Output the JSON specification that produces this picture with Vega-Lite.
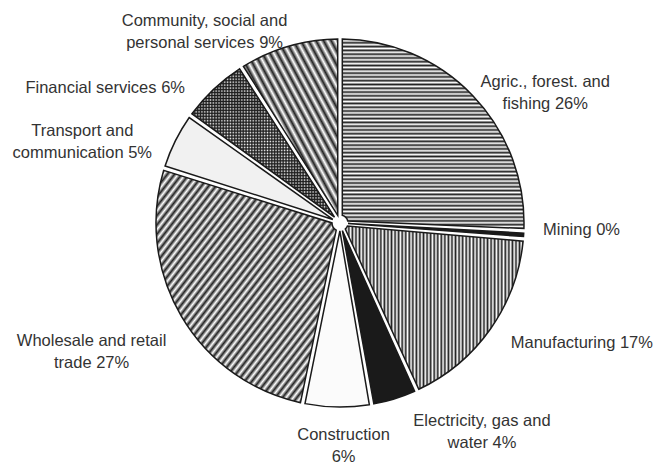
{
  "$schema": "https://vega.github.io/schema/vega-lite/v6.json",
  "width": 632,
  "height": 446,
  "autosize": {"type": "none"},
  "padding": {"left": 24, "top": 0, "right": 1, "bottom": 21},
  "background": "#ffffff",
  "config": {"view": {"stroke": null}},
  "data": {
    "values": [
      {"order": 1, "sector": "Agriculture", "value": 25.7, "label": "Agric., forest. and\nfishing 26%"},
      {"order": 2, "sector": "Mining", "value": 0.7, "label": "Mining 0%"},
      {"order": 3, "sector": "Manufacturing", "value": 16.8, "label": "Manufacturing 17%"},
      {"order": 4, "sector": "Electricity", "value": 4.1, "label": "Electricity, gas and\nwater 4%"},
      {"order": 5, "sector": "Construction", "value": 6.0, "label": "Construction\n6%"},
      {"order": 6, "sector": "Trade", "value": 26.6, "label": "Wholesale and retail\ntrade 27%"},
      {"order": 7, "sector": "Transport", "value": 5.1, "label": "Transport and\ncommunication 5%"},
      {"order": 8, "sector": "Finance", "value": 6.1, "label": "Financial services 6%"},
      {"order": 9, "sector": "Community", "value": 9.0, "label": "Community, social and\npersonal services 9%"}
    ]
  },
  "encoding": {
    "theta": {"field": "value", "type": "quantitative", "stack": true},
    "order": {"field": "order", "type": "quantitative"},
    "detail": {"field": "sector", "type": "nominal"}
  },
  "layer": [
    {
      "mark": {"type": "arc", "outerRadius": 184, "innerRadius": 8, "padAngle": 0.025, "stroke": "#1a1a1a", "strokeWidth": 1.5},
      "encoding": {
        "fill": {
          "condition": [
            {"test": "datum.sector === 'Agriculture'", "value": {"gradient": "linear", "x1": 0, "y1": 0, "x2": 0, "y2": 1, "stops": [{"offset":0,"color":"#222"},{"offset":0.01,"color":"#fff"},{"offset":0.02,"color":"#222"},{"offset":0.03,"color":"#fff"},{"offset":0.04,"color":"#222"},{"offset":0.05,"color":"#fff"},{"offset":0.06,"color":"#222"},{"offset":0.07,"color":"#fff"},{"offset":0.08,"color":"#222"},{"offset":0.09,"color":"#fff"},{"offset":0.1,"color":"#222"},{"offset":0.11,"color":"#fff"},{"offset":0.12,"color":"#222"},{"offset":0.13,"color":"#fff"},{"offset":0.14,"color":"#222"},{"offset":0.15,"color":"#fff"},{"offset":0.16,"color":"#222"},{"offset":0.17,"color":"#fff"},{"offset":0.18,"color":"#222"},{"offset":0.19,"color":"#fff"},{"offset":0.2,"color":"#222"},{"offset":0.21,"color":"#fff"},{"offset":0.22,"color":"#222"},{"offset":0.23,"color":"#fff"},{"offset":0.24,"color":"#222"},{"offset":0.25,"color":"#fff"},{"offset":0.26,"color":"#222"},{"offset":0.27,"color":"#fff"},{"offset":0.28,"color":"#222"},{"offset":0.29,"color":"#fff"},{"offset":0.3,"color":"#222"},{"offset":0.31,"color":"#fff"},{"offset":0.32,"color":"#222"},{"offset":0.33,"color":"#fff"},{"offset":0.34,"color":"#222"},{"offset":0.35,"color":"#fff"},{"offset":0.36,"color":"#222"},{"offset":0.37,"color":"#fff"},{"offset":0.38,"color":"#222"},{"offset":0.39,"color":"#fff"},{"offset":0.4,"color":"#222"},{"offset":0.41,"color":"#fff"},{"offset":0.42,"color":"#222"},{"offset":0.43,"color":"#fff"},{"offset":0.44,"color":"#222"},{"offset":0.45,"color":"#fff"},{"offset":0.46,"color":"#222"},{"offset":0.47,"color":"#fff"},{"offset":0.48,"color":"#222"},{"offset":0.49,"color":"#fff"},{"offset":0.5,"color":"#222"},{"offset":0.51,"color":"#fff"},{"offset":0.52,"color":"#222"},{"offset":0.53,"color":"#fff"},{"offset":0.54,"color":"#222"},{"offset":0.55,"color":"#fff"},{"offset":0.56,"color":"#222"},{"offset":0.57,"color":"#fff"},{"offset":0.58,"color":"#222"},{"offset":0.59,"color":"#fff"},{"offset":0.6,"color":"#222"},{"offset":0.61,"color":"#fff"},{"offset":0.62,"color":"#222"},{"offset":0.63,"color":"#fff"},{"offset":0.64,"color":"#222"},{"offset":0.65,"color":"#fff"},{"offset":0.66,"color":"#222"},{"offset":0.67,"color":"#fff"},{"offset":0.68,"color":"#222"},{"offset":0.69,"color":"#fff"},{"offset":0.7,"color":"#222"},{"offset":0.71,"color":"#fff"},{"offset":0.72,"color":"#222"},{"offset":0.73,"color":"#fff"},{"offset":0.74,"color":"#222"},{"offset":0.75,"color":"#fff"},{"offset":0.76,"color":"#222"},{"offset":0.77,"color":"#fff"},{"offset":0.78,"color":"#222"},{"offset":0.79,"color":"#fff"},{"offset":0.8,"color":"#222"},{"offset":0.81,"color":"#fff"},{"offset":0.82,"color":"#222"},{"offset":0.83,"color":"#fff"},{"offset":0.84,"color":"#222"},{"offset":0.85,"color":"#fff"},{"offset":0.86,"color":"#222"},{"offset":0.87,"color":"#fff"},{"offset":0.88,"color":"#222"},{"offset":0.89,"color":"#fff"},{"offset":0.9,"color":"#222"},{"offset":0.91,"color":"#fff"},{"offset":0.92,"color":"#222"},{"offset":0.93,"color":"#fff"},{"offset":0.94,"color":"#222"},{"offset":0.95,"color":"#fff"},{"offset":0.96,"color":"#222"},{"offset":0.97,"color":"#fff"},{"offset":0.98,"color":"#222"},{"offset":0.99,"color":"#fff"},{"offset":1,"color":"#222"}]}},
            {"test": "datum.sector === 'Manufacturing'", "value": {"gradient": "linear", "x1": 0, "y1": 0, "x2": 1, "y2": 0, "stops": [{"offset":0,"color":"#222"},{"offset":0.01,"color":"#fff"},{"offset":0.02,"color":"#222"},{"offset":0.03,"color":"#fff"},{"offset":0.04,"color":"#222"},{"offset":0.05,"color":"#fff"},{"offset":0.06,"color":"#222"},{"offset":0.07,"color":"#fff"},{"offset":0.08,"color":"#222"},{"offset":0.09,"color":"#fff"},{"offset":0.1,"color":"#222"},{"offset":0.11,"color":"#fff"},{"offset":0.12,"color":"#222"},{"offset":0.13,"color":"#fff"},{"offset":0.14,"color":"#222"},{"offset":0.15,"color":"#fff"},{"offset":0.16,"color":"#222"},{"offset":0.17,"color":"#fff"},{"offset":0.18,"color":"#222"},{"offset":0.19,"color":"#fff"},{"offset":0.2,"color":"#222"},{"offset":0.21,"color":"#fff"},{"offset":0.22,"color":"#222"},{"offset":0.23,"color":"#fff"},{"offset":0.24,"color":"#222"},{"offset":0.25,"color":"#fff"},{"offset":0.26,"color":"#222"},{"offset":0.27,"color":"#fff"},{"offset":0.28,"color":"#222"},{"offset":0.29,"color":"#fff"},{"offset":0.3,"color":"#222"},{"offset":0.31,"color":"#fff"},{"offset":0.32,"color":"#222"},{"offset":0.33,"color":"#fff"},{"offset":0.34,"color":"#222"},{"offset":0.35,"color":"#fff"},{"offset":0.36,"color":"#222"},{"offset":0.37,"color":"#fff"},{"offset":0.38,"color":"#222"},{"offset":0.39,"color":"#fff"},{"offset":0.4,"color":"#222"},{"offset":0.41,"color":"#fff"},{"offset":0.42,"color":"#222"},{"offset":0.43,"color":"#fff"},{"offset":0.44,"color":"#222"},{"offset":0.45,"color":"#fff"},{"offset":0.46,"color":"#222"},{"offset":0.47,"color":"#fff"},{"offset":0.48,"color":"#222"},{"offset":0.49,"color":"#fff"},{"offset":0.5,"color":"#222"},{"offset":0.51,"color":"#fff"},{"offset":0.52,"color":"#222"},{"offset":0.53,"color":"#fff"},{"offset":0.54,"color":"#222"},{"offset":0.55,"color":"#fff"},{"offset":0.56,"color":"#222"},{"offset":0.57,"color":"#fff"},{"offset":0.58,"color":"#222"},{"offset":0.59,"color":"#fff"},{"offset":0.6,"color":"#222"},{"offset":0.61,"color":"#fff"},{"offset":0.62,"color":"#222"},{"offset":0.63,"color":"#fff"},{"offset":0.64,"color":"#222"},{"offset":0.65,"color":"#fff"},{"offset":0.66,"color":"#222"},{"offset":0.67,"color":"#fff"},{"offset":0.68,"color":"#222"},{"offset":0.69,"color":"#fff"},{"offset":0.7,"color":"#222"},{"offset":0.71,"color":"#fff"},{"offset":0.72,"color":"#222"},{"offset":0.73,"color":"#fff"},{"offset":0.74,"color":"#222"},{"offset":0.75,"color":"#fff"},{"offset":0.76,"color":"#222"},{"offset":0.77,"color":"#fff"},{"offset":0.78,"color":"#222"},{"offset":0.79,"color":"#fff"},{"offset":0.8,"color":"#222"},{"offset":0.81,"color":"#fff"},{"offset":0.82,"color":"#222"},{"offset":0.83,"color":"#fff"},{"offset":0.84,"color":"#222"},{"offset":0.85,"color":"#fff"},{"offset":0.86,"color":"#222"},{"offset":0.87,"color":"#fff"},{"offset":0.88,"color":"#222"},{"offset":0.89,"color":"#fff"},{"offset":0.9,"color":"#222"},{"offset":0.91,"color":"#fff"},{"offset":0.92,"color":"#222"},{"offset":0.93,"color":"#fff"},{"offset":0.94,"color":"#222"},{"offset":0.95,"color":"#fff"},{"offset":0.96,"color":"#222"},{"offset":0.97,"color":"#fff"},{"offset":0.98,"color":"#222"},{"offset":0.99,"color":"#fff"},{"offset":1,"color":"#222"}]}},
            {"test": "datum.sector === 'Trade'", "value": {"gradient": "linear", "x1": 0, "y1": 0, "x2": 1, "y2": 1, "stops": [{"offset":0,"color":"#222"},{"offset":0.01,"color":"#fff"},{"offset":0.02,"color":"#222"},{"offset":0.03,"color":"#fff"},{"offset":0.04,"color":"#222"},{"offset":0.05,"color":"#fff"},{"offset":0.06,"color":"#222"},{"offset":0.07,"color":"#fff"},{"offset":0.08,"color":"#222"},{"offset":0.09,"color":"#fff"},{"offset":0.1,"color":"#222"},{"offset":0.11,"color":"#fff"},{"offset":0.12,"color":"#222"},{"offset":0.13,"color":"#fff"},{"offset":0.14,"color":"#222"},{"offset":0.15,"color":"#fff"},{"offset":0.16,"color":"#222"},{"offset":0.17,"color":"#fff"},{"offset":0.18,"color":"#222"},{"offset":0.19,"color":"#fff"},{"offset":0.2,"color":"#222"},{"offset":0.21,"color":"#fff"},{"offset":0.22,"color":"#222"},{"offset":0.23,"color":"#fff"},{"offset":0.24,"color":"#222"},{"offset":0.25,"color":"#fff"},{"offset":0.26,"color":"#222"},{"offset":0.27,"color":"#fff"},{"offset":0.28,"color":"#222"},{"offset":0.29,"color":"#fff"},{"offset":0.3,"color":"#222"},{"offset":0.31,"color":"#fff"},{"offset":0.32,"color":"#222"},{"offset":0.33,"color":"#fff"},{"offset":0.34,"color":"#222"},{"offset":0.35,"color":"#fff"},{"offset":0.36,"color":"#222"},{"offset":0.37,"color":"#fff"},{"offset":0.38,"color":"#222"},{"offset":0.39,"color":"#fff"},{"offset":0.4,"color":"#222"},{"offset":0.41,"color":"#fff"},{"offset":0.42,"color":"#222"},{"offset":0.43,"color":"#fff"},{"offset":0.44,"color":"#222"},{"offset":0.45,"color":"#fff"},{"offset":0.46,"color":"#222"},{"offset":0.47,"color":"#fff"},{"offset":0.48,"color":"#222"},{"offset":0.49,"color":"#fff"},{"offset":0.5,"color":"#222"},{"offset":0.51,"color":"#fff"},{"offset":0.52,"color":"#222"},{"offset":0.53,"color":"#fff"},{"offset":0.54,"color":"#222"},{"offset":0.55,"color":"#fff"},{"offset":0.56,"color":"#222"},{"offset":0.57,"color":"#fff"},{"offset":0.58,"color":"#222"},{"offset":0.59,"color":"#fff"},{"offset":0.6,"color":"#222"},{"offset":0.61,"color":"#fff"},{"offset":0.62,"color":"#222"},{"offset":0.63,"color":"#fff"},{"offset":0.64,"color":"#222"},{"offset":0.65,"color":"#fff"},{"offset":0.66,"color":"#222"},{"offset":0.67,"color":"#fff"},{"offset":0.68,"color":"#222"},{"offset":0.69,"color":"#fff"},{"offset":0.7,"color":"#222"},{"offset":0.71,"color":"#fff"},{"offset":0.72,"color":"#222"},{"offset":0.73,"color":"#fff"},{"offset":0.74,"color":"#222"},{"offset":0.75,"color":"#fff"},{"offset":0.76,"color":"#222"},{"offset":0.77,"color":"#fff"},{"offset":0.78,"color":"#222"},{"offset":0.79,"color":"#fff"},{"offset":0.8,"color":"#222"},{"offset":0.81,"color":"#fff"},{"offset":0.82,"color":"#222"},{"offset":0.83,"color":"#fff"},{"offset":0.84,"color":"#222"},{"offset":0.85,"color":"#fff"},{"offset":0.86,"color":"#222"},{"offset":0.87,"color":"#fff"},{"offset":0.88,"color":"#222"},{"offset":0.89,"color":"#fff"},{"offset":0.9,"color":"#222"},{"offset":0.91,"color":"#fff"},{"offset":0.92,"color":"#222"},{"offset":0.93,"color":"#fff"},{"offset":0.94,"color":"#222"},{"offset":0.95,"color":"#fff"},{"offset":0.96,"color":"#222"},{"offset":0.97,"color":"#fff"},{"offset":0.98,"color":"#222"},{"offset":0.99,"color":"#fff"},{"offset":1,"color":"#222"}]}},
            {"test": "datum.sector === 'Community'", "value": {"gradient": "linear", "x1": 0, "y1": 1, "x2": 1, "y2": 0, "stops": [{"offset":0,"color":"#222"},{"offset":0.02,"color":"#fff"},{"offset":0.04,"color":"#222"},{"offset":0.06,"color":"#fff"},{"offset":0.08,"color":"#222"},{"offset":0.1,"color":"#fff"},{"offset":0.12,"color":"#222"},{"offset":0.14,"color":"#fff"},{"offset":0.16,"color":"#222"},{"offset":0.18,"color":"#fff"},{"offset":0.2,"color":"#222"},{"offset":0.22,"color":"#fff"},{"offset":0.24,"color":"#222"},{"offset":0.26,"color":"#fff"},{"offset":0.28,"color":"#222"},{"offset":0.3,"color":"#fff"},{"offset":0.32,"color":"#222"},{"offset":0.34,"color":"#fff"},{"offset":0.36,"color":"#222"},{"offset":0.38,"color":"#fff"},{"offset":0.4,"color":"#222"},{"offset":0.42,"color":"#fff"},{"offset":0.44,"color":"#222"},{"offset":0.46,"color":"#fff"},{"offset":0.48,"color":"#222"},{"offset":0.5,"color":"#fff"},{"offset":0.52,"color":"#222"},{"offset":0.54,"color":"#fff"},{"offset":0.56,"color":"#222"},{"offset":0.58,"color":"#fff"},{"offset":0.6,"color":"#222"},{"offset":0.62,"color":"#fff"},{"offset":0.64,"color":"#222"},{"offset":0.66,"color":"#fff"},{"offset":0.68,"color":"#222"},{"offset":0.7,"color":"#fff"},{"offset":0.72,"color":"#222"},{"offset":0.74,"color":"#fff"},{"offset":0.76,"color":"#222"},{"offset":0.78,"color":"#fff"},{"offset":0.8,"color":"#222"},{"offset":0.82,"color":"#fff"},{"offset":0.84,"color":"#222"},{"offset":0.86,"color":"#fff"},{"offset":0.88,"color":"#222"},{"offset":0.9,"color":"#fff"},{"offset":0.92,"color":"#222"},{"offset":0.94,"color":"#fff"},{"offset":0.96,"color":"#222"},{"offset":0.98,"color":"#fff"},{"offset":1,"color":"#222"}]}},
            {"test": "datum.sector === 'Finance'", "value": {"gradient": "linear", "x1": 0, "y1": 0, "x2": 0, "y2": 1, "stops": [{"offset":0,"color":"#222"},{"offset":0.01,"color":"#fff"},{"offset":0.02,"color":"#222"},{"offset":0.03,"color":"#fff"},{"offset":0.04,"color":"#222"},{"offset":0.05,"color":"#fff"},{"offset":0.06,"color":"#222"},{"offset":0.07,"color":"#fff"},{"offset":0.08,"color":"#222"},{"offset":0.09,"color":"#fff"},{"offset":0.1,"color":"#222"},{"offset":0.11,"color":"#fff"},{"offset":0.12,"color":"#222"},{"offset":0.13,"color":"#fff"},{"offset":0.14,"color":"#222"},{"offset":0.15,"color":"#fff"},{"offset":0.16,"color":"#222"},{"offset":0.17,"color":"#fff"},{"offset":0.18,"color":"#222"},{"offset":0.19,"color":"#fff"},{"offset":0.2,"color":"#222"},{"offset":0.21,"color":"#fff"},{"offset":0.22,"color":"#222"},{"offset":0.23,"color":"#fff"},{"offset":0.24,"color":"#222"},{"offset":0.25,"color":"#fff"},{"offset":0.26,"color":"#222"},{"offset":0.27,"color":"#fff"},{"offset":0.28,"color":"#222"},{"offset":0.29,"color":"#fff"},{"offset":0.3,"color":"#222"},{"offset":0.31,"color":"#fff"},{"offset":0.32,"color":"#222"},{"offset":0.33,"color":"#fff"},{"offset":0.34,"color":"#222"},{"offset":0.35,"color":"#fff"},{"offset":0.36,"color":"#222"},{"offset":0.37,"color":"#fff"},{"offset":0.38,"color":"#222"},{"offset":0.39,"color":"#fff"},{"offset":0.4,"color":"#222"},{"offset":0.41,"color":"#fff"},{"offset":0.42,"color":"#222"},{"offset":0.43,"color":"#fff"},{"offset":0.44,"color":"#222"},{"offset":0.45,"color":"#fff"},{"offset":0.46,"color":"#222"},{"offset":0.47,"color":"#fff"},{"offset":0.48,"color":"#222"},{"offset":0.49,"color":"#fff"},{"offset":0.5,"color":"#222"},{"offset":0.51,"color":"#fff"},{"offset":0.52,"color":"#222"},{"offset":0.53,"color":"#fff"},{"offset":0.54,"color":"#222"},{"offset":0.55,"color":"#fff"},{"offset":0.56,"color":"#222"},{"offset":0.57,"color":"#fff"},{"offset":0.58,"color":"#222"},{"offset":0.59,"color":"#fff"},{"offset":0.6,"color":"#222"},{"offset":0.61,"color":"#fff"},{"offset":0.62,"color":"#222"},{"offset":0.63,"color":"#fff"},{"offset":0.64,"color":"#222"},{"offset":0.65,"color":"#fff"},{"offset":0.66,"color":"#222"},{"offset":0.67,"color":"#fff"},{"offset":0.68,"color":"#222"},{"offset":0.69,"color":"#fff"},{"offset":0.7,"color":"#222"},{"offset":0.71,"color":"#fff"},{"offset":0.72,"color":"#222"},{"offset":0.73,"color":"#fff"},{"offset":0.74,"color":"#222"},{"offset":0.75,"color":"#fff"},{"offset":0.76,"color":"#222"},{"offset":0.77,"color":"#fff"},{"offset":0.78,"color":"#222"},{"offset":0.79,"color":"#fff"},{"offset":0.8,"color":"#222"},{"offset":0.81,"color":"#fff"},{"offset":0.82,"color":"#222"},{"offset":0.83,"color":"#fff"},{"offset":0.84,"color":"#222"},{"offset":0.85,"color":"#fff"},{"offset":0.86,"color":"#222"},{"offset":0.87,"color":"#fff"},{"offset":0.88,"color":"#222"},{"offset":0.89,"color":"#fff"},{"offset":0.9,"color":"#222"},{"offset":0.91,"color":"#fff"},{"offset":0.92,"color":"#222"},{"offset":0.93,"color":"#fff"},{"offset":0.94,"color":"#222"},{"offset":0.95,"color":"#fff"},{"offset":0.96,"color":"#222"},{"offset":0.97,"color":"#fff"},{"offset":0.98,"color":"#222"},{"offset":0.99,"color":"#fff"},{"offset":1,"color":"#222"}]}},
            {"test": "datum.sector === 'Mining' || datum.sector === 'Electricity'", "value": "#1a1a1a"},
            {"test": "datum.sector === 'Transport'", "value": "#f1f1f1"}
          ],
          "value": "#fbfbfb"
        }
      }
    },
    {
      "mark": {"type": "arc", "outerRadius": 184, "innerRadius": 8, "padAngle": 0.025, "strokeWidth": 0},
      "encoding": {
        "fill": {
          "condition": {"test": "datum.sector === 'Finance'", "value": {"gradient": "linear", "x1": 0, "y1": 0, "x2": 1, "y2": 0, "stops": [{"offset":0,"color":"#222"},{"offset":0.01,"color":"rgba(0,0,0,0)"},{"offset":0.02,"color":"#222"},{"offset":0.03,"color":"rgba(0,0,0,0)"},{"offset":0.04,"color":"#222"},{"offset":0.05,"color":"rgba(0,0,0,0)"},{"offset":0.06,"color":"#222"},{"offset":0.07,"color":"rgba(0,0,0,0)"},{"offset":0.08,"color":"#222"},{"offset":0.09,"color":"rgba(0,0,0,0)"},{"offset":0.1,"color":"#222"},{"offset":0.11,"color":"rgba(0,0,0,0)"},{"offset":0.12,"color":"#222"},{"offset":0.13,"color":"rgba(0,0,0,0)"},{"offset":0.14,"color":"#222"},{"offset":0.15,"color":"rgba(0,0,0,0)"},{"offset":0.16,"color":"#222"},{"offset":0.17,"color":"rgba(0,0,0,0)"},{"offset":0.18,"color":"#222"},{"offset":0.19,"color":"rgba(0,0,0,0)"},{"offset":0.2,"color":"#222"},{"offset":0.21,"color":"rgba(0,0,0,0)"},{"offset":0.22,"color":"#222"},{"offset":0.23,"color":"rgba(0,0,0,0)"},{"offset":0.24,"color":"#222"},{"offset":0.25,"color":"rgba(0,0,0,0)"},{"offset":0.26,"color":"#222"},{"offset":0.27,"color":"rgba(0,0,0,0)"},{"offset":0.28,"color":"#222"},{"offset":0.29,"color":"rgba(0,0,0,0)"},{"offset":0.3,"color":"#222"},{"offset":0.31,"color":"rgba(0,0,0,0)"},{"offset":0.32,"color":"#222"},{"offset":0.33,"color":"rgba(0,0,0,0)"},{"offset":0.34,"color":"#222"},{"offset":0.35,"color":"rgba(0,0,0,0)"},{"offset":0.36,"color":"#222"},{"offset":0.37,"color":"rgba(0,0,0,0)"},{"offset":0.38,"color":"#222"},{"offset":0.39,"color":"rgba(0,0,0,0)"},{"offset":0.4,"color":"#222"},{"offset":0.41,"color":"rgba(0,0,0,0)"},{"offset":0.42,"color":"#222"},{"offset":0.43,"color":"rgba(0,0,0,0)"},{"offset":0.44,"color":"#222"},{"offset":0.45,"color":"rgba(0,0,0,0)"},{"offset":0.46,"color":"#222"},{"offset":0.47,"color":"rgba(0,0,0,0)"},{"offset":0.48,"color":"#222"},{"offset":0.49,"color":"rgba(0,0,0,0)"},{"offset":0.5,"color":"#222"},{"offset":0.51,"color":"rgba(0,0,0,0)"},{"offset":0.52,"color":"#222"},{"offset":0.53,"color":"rgba(0,0,0,0)"},{"offset":0.54,"color":"#222"},{"offset":0.55,"color":"rgba(0,0,0,0)"},{"offset":0.56,"color":"#222"},{"offset":0.57,"color":"rgba(0,0,0,0)"},{"offset":0.58,"color":"#222"},{"offset":0.59,"color":"rgba(0,0,0,0)"},{"offset":0.6,"color":"#222"},{"offset":0.61,"color":"rgba(0,0,0,0)"},{"offset":0.62,"color":"#222"},{"offset":0.63,"color":"rgba(0,0,0,0)"},{"offset":0.64,"color":"#222"},{"offset":0.65,"color":"rgba(0,0,0,0)"},{"offset":0.66,"color":"#222"},{"offset":0.67,"color":"rgba(0,0,0,0)"},{"offset":0.68,"color":"#222"},{"offset":0.69,"color":"rgba(0,0,0,0)"},{"offset":0.7,"color":"#222"},{"offset":0.71,"color":"rgba(0,0,0,0)"},{"offset":0.72,"color":"#222"},{"offset":0.73,"color":"rgba(0,0,0,0)"},{"offset":0.74,"color":"#222"},{"offset":0.75,"color":"rgba(0,0,0,0)"},{"offset":0.76,"color":"#222"},{"offset":0.77,"color":"rgba(0,0,0,0)"},{"offset":0.78,"color":"#222"},{"offset":0.79,"color":"rgba(0,0,0,0)"},{"offset":0.8,"color":"#222"},{"offset":0.81,"color":"rgba(0,0,0,0)"},{"offset":0.82,"color":"#222"},{"offset":0.83,"color":"rgba(0,0,0,0)"},{"offset":0.84,"color":"#222"},{"offset":0.85,"color":"rgba(0,0,0,0)"},{"offset":0.86,"color":"#222"},{"offset":0.87,"color":"rgba(0,0,0,0)"},{"offset":0.88,"color":"#222"},{"offset":0.89,"color":"rgba(0,0,0,0)"},{"offset":0.9,"color":"#222"},{"offset":0.91,"color":"rgba(0,0,0,0)"},{"offset":0.92,"color":"#222"},{"offset":0.93,"color":"rgba(0,0,0,0)"},{"offset":0.94,"color":"#222"},{"offset":0.95,"color":"rgba(0,0,0,0)"},{"offset":0.96,"color":"#222"},{"offset":0.97,"color":"rgba(0,0,0,0)"},{"offset":0.98,"color":"#222"},{"offset":0.99,"color":"rgba(0,0,0,0)"},{"offset":1,"color":"#222"}]}},
          "value": "transparent"
        }
      }
    },
    {
      "mark": {"type": "text", "radius": 240, "dx": 32, "dy": 25, "align": "center", "baseline": "middle", "lineBreak": "\n", "font": "Liberation Sans", "fontSize": 16.5, "lineHeight": 22, "fill": "#333333"},
      "encoding": {"text": {"condition": {"test": "datum.sector === 'Agriculture'", "field": "label"}, "value": ""}}
    },
    {
      "mark": {"type": "text", "radius": 240, "dx": 2, "dy": -8, "align": "center", "baseline": "middle", "lineBreak": "\n", "font": "Liberation Sans", "fontSize": 16.5, "lineHeight": 22, "fill": "#333333"},
      "encoding": {"text": {"condition": {"test": "datum.sector === 'Mining'", "field": "label"}, "value": ""}}
    },
    {
      "mark": {"type": "text", "radius": 264, "dx": 26, "dy": -32, "align": "center", "baseline": "middle", "lineBreak": "\n", "font": "Liberation Sans", "fontSize": 16.5, "lineHeight": 22, "fill": "#333333"},
      "encoding": {"text": {"condition": {"test": "datum.sector === 'Manufacturing'", "field": "label"}, "value": ""}}
    },
    {
      "mark": {"type": "text", "radius": 239, "dx": 71, "dy": -30, "align": "center", "baseline": "middle", "lineBreak": "\n", "font": "Liberation Sans", "fontSize": 16.5, "lineHeight": 22, "fill": "#333333"},
      "encoding": {"text": {"condition": {"test": "datum.sector === 'Electricity'", "field": "label"}, "value": ""}}
    },
    {
      "mark": {"type": "text", "radius": 220, "dx": 7, "dy": -8, "align": "center", "baseline": "middle", "lineBreak": "\n", "font": "Liberation Sans", "fontSize": 16.5, "lineHeight": 22, "fill": "#333333"},
      "encoding": {"text": {"condition": {"test": "datum.sector === 'Construction'", "field": "label"}, "value": ""}}
    },
    {
      "mark": {"type": "text", "radius": 279, "dx": -8, "dy": -24, "align": "center", "baseline": "middle", "lineBreak": "\n", "font": "Liberation Sans", "fontSize": 16.5, "lineHeight": 22, "fill": "#333333"},
      "encoding": {"text": {"condition": {"test": "datum.sector === 'Trade'", "field": "label"}, "value": ""}}
    },
    {
      "mark": {"type": "text", "radius": 269, "dx": -17, "dy": 28, "align": "center", "baseline": "middle", "lineBreak": "\n", "font": "Liberation Sans", "fontSize": 16.5, "lineHeight": 22, "fill": "#333333"},
      "encoding": {"text": {"condition": {"test": "datum.sector === 'Transport'", "field": "label"}, "value": ""}}
    },
    {
      "mark": {"type": "text", "radius": 262, "dx": -55, "dy": 56, "align": "center", "baseline": "middle", "lineBreak": "\n", "font": "Liberation Sans", "fontSize": 16.5, "lineHeight": 22, "fill": "#333333"},
      "encoding": {"text": {"condition": {"test": "datum.sector === 'Finance'", "field": "label"}, "value": ""}}
    },
    {
      "mark": {"type": "text", "radius": 224, "dx": -73, "dy": 13, "align": "center", "baseline": "middle", "lineBreak": "\n", "font": "Liberation Sans", "fontSize": 16.5, "lineHeight": 22, "fill": "#333333"},
      "encoding": {"text": {"condition": {"test": "datum.sector === 'Community'", "field": "label"}, "value": ""}}
    }
  ]
}
